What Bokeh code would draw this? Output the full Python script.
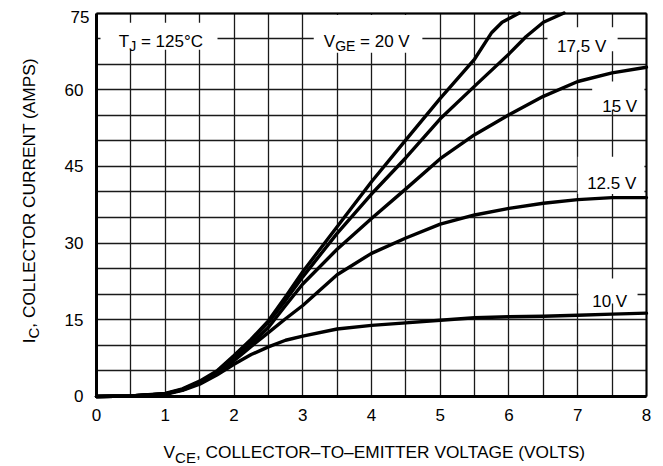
import numpy as np
from bokeh.plotting import figure
from bokeh.models import Label, FixedTicker, Range1d, LinearAxis
from bokeh.embed import file_html
from bokeh.resources import INLINE

# ---- data ----
x_ticks = [0, 1, 2, 3, 4, 5, 6, 7, 8]
y_ticks = [0, 15, 30, 45, 60]
y_top_tick = "75"

vce_20 = [0, 0.5, 1.0, 1.25, 1.5, 1.75, 2.0, 2.25, 2.5, 2.75, 3.0, 3.5, 4.0, 4.5, 5.0, 5.5, 5.75, 5.9, 6.15]
ic_20 = [0, 0.1, 0.6, 1.5, 3.0, 5.0, 8.0, 11.2, 14.8, 19.5, 24.4, 33.2, 42.0, 50.2, 58.3, 66.0, 71.2, 73.2, 75.0]

vce_175 = [0, 0.5, 1.0, 1.25, 1.5, 1.75, 2.0, 2.25, 2.5, 2.75, 3.0, 3.5, 4.0, 4.5, 5.0, 5.5, 6.0, 6.25, 6.5, 6.8]
ic_175 = [0, 0.1, 0.5, 1.4, 2.8, 4.8, 7.8, 11.0, 14.5, 18.8, 23.4, 31.9, 39.6, 46.7, 54.3, 60.7, 67.0, 70.4, 73.2, 75.0]

vce_full = [0, 0.5, 1.0, 1.25, 1.5, 1.75, 2.0, 2.25, 2.5, 2.75, 3.0, 3.5, 4.0, 4.5, 5.0, 5.5, 6.0, 6.5, 7.0, 7.5, 8.0]
ic_15 = [0, 0.1, 0.5, 1.3, 2.7, 4.6, 7.3, 10.3, 13.5, 17.8, 22.0, 28.8, 34.8, 40.6, 46.5, 51.2, 55.1, 58.7, 61.6, 63.3, 64.4]
ic_125 = [0, 0.1, 0.5, 1.3, 2.6, 4.4, 7.0, 9.8, 12.5, 15.2, 17.8, 23.8, 28.0, 31.0, 33.7, 35.5, 36.8, 37.8, 38.5, 38.9, 38.9]
ic_10 = [0, 0.1, 0.4, 1.2, 2.4, 4.2, 6.3, 8.2, 9.7, 11.0, 11.8, 13.2, 13.9, 14.4, 14.9, 15.4, 15.6, 15.7, 15.9, 16.1, 16.3]

X_MIN, X_MAX = 0, 8
Y_MIN, Y_MAX = 0, 75

FONT = "Liberation Sans"
ARIAL = {'V': 667, 'C': 722, 'E': 667, 'G': 778, 'T': 611, 'J': 500, 'I': 278, ' ': 278}


def text_width(s, size):
    return sum(ARIAL.get(ch, 556) for ch in s) / 1000.0 * size


# frame covers the whole canvas; the chart box is drawn inside it
p = figure(width=663, height=466, x_range=Range1d(-1.3964, 8.2473), y_range=Range1d(-13.69, 77.445),
           output_backend="svg", toolbar_location=None, title=None,
           min_border_left=0, min_border_right=0, min_border_top=0, min_border_bottom=0)

p.background_fill_color = "white"
p.border_fill_color = "white"
p.outline_line_color = None

p.xaxis.ticker = FixedTicker(ticks=x_ticks)
p.yaxis.ticker = FixedTicker(ticks=y_ticks)
p.xaxis.fixed_location = Y_MIN
p.yaxis.fixed_location = X_MIN
p.xaxis.bounds = (X_MIN, X_MAX)
p.yaxis.bounds = (Y_MIN, Y_MAX)

p.xgrid.ticker = FixedTicker(ticks=list(np.arange(X_MIN, X_MAX + 0.01, 0.5)))
p.ygrid.ticker = FixedTicker(ticks=list(np.arange(Y_MIN, Y_MAX + 0.1, 5)))
p.xgrid.bounds = (X_MIN, X_MAX)
p.ygrid.bounds = (Y_MIN, Y_MAX)
p.xgrid.cross_bounds = (Y_MIN, Y_MAX)
p.ygrid.cross_bounds = (X_MIN, X_MAX)
for g in (p.xgrid, p.ygrid):
    g.grid_line_color = "#1a1a1a"
    g.grid_line_width = 1.3

for ax in (p.xaxis, p.yaxis):
    ax.axis_line_width = 3
    ax.axis_line_color = "black"
    ax.major_tick_line_color = None
    ax.minor_tick_line_color = None
    ax.major_label_text_font = FONT
    ax.major_label_text_font_size = "17px"
    ax.major_label_text_color = "black"
    ax.major_label_standoff = 7

# top and right border of the chart box
top_axis = LinearAxis(fixed_location=Y_MAX, bounds=(X_MIN, X_MAX), ticker=FixedTicker(ticks=[]),
                      axis_line_width=2, major_tick_line_color=None, minor_tick_line_color=None)
right_axis = LinearAxis(fixed_location=X_MAX, bounds=(Y_MIN, Y_MAX), ticker=FixedTicker(ticks=[]),
                        axis_line_width=2, major_tick_line_color=None, minor_tick_line_color=None)
p.add_layout(top_axis, "above")
p.add_layout(right_axis, "right")

# white backgrounds behind in-plot labels
box_left = [0.058, 3.16, 6.56, 7.21, 7.0, 7.01]
box_right = [1.76, 4.74, 7.58, 7.97, 7.97, 7.87]
box_top = [73.1, 74.6, 72.2, 61.6, 46.9, 23.1]
box_bottom = [67.8, 67.25, 67.5, 56.1, 39.6, 18.2]
p.quad(left=box_left, right=box_right, top=box_top, bottom=box_bottom,
       fill_color="white", fill_alpha=1.0, line_color=None)

curves = [(vce_20, ic_20), (vce_175, ic_175), (vce_full, ic_15), (vce_full, ic_125), (vce_full, ic_10)]
for xs, ys in curves:
    p.line(xs, ys, line_color="black", line_width=3.4, line_join="round", line_cap="round")


def rich(x, y, parts, angle=0.0):
    adv = 0.0
    for txt, size, drop in parts:
        lead = len(txt) - len(txt.lstrip(" "))
        adv += lead * 0.278 * size
        txt = txt.lstrip(" ")
        if angle == 0.0:
            xo, yo = adv, -drop
        else:
            xo, yo = drop, adv
        p.add_layout(Label(x=x, y=y, x_offset=xo, y_offset=yo, text=txt, angle=angle,
                           text_font=FONT, text_font_size=f"{size}px", text_color="black",
                           text_baseline="alphabetic", text_align="left"))
        adv += text_width(txt, size)


rich(0.325, 69.4, [("T", 17, 0), ("J", 14, 4), (" = 125°C", 17, 0)])
rich(3.306, 69.4, [("V", 17, 0), ("GE", 14, 4), (" = 20 V", 17, 0)])
rich(6.70, 68.5, [("17.5 V", 17, 0)])
rich(7.356, 56.7, [("15 V", 17, 0)])
rich(7.137, 41.6, [("12.5 V", 17, 0)])
rich(7.21, 18.5, [("10 V", 17, 0)])

# top y tick label, nudged down as in the reference
p.add_layout(Label(x=X_MIN, y=Y_MAX, x_offset=-7, y_offset=-3.5, text=y_top_tick, text_font=FONT,
                   text_font_size="17px", text_color="black", text_align="right",
                   text_baseline="middle"))

rich(0.975, -10.95, [("V", 17.3, 0), ("CE", 15, 5), (", COLLECTOR–TO–EMITTER VOLTAGE (VOLTS)", 17.3, 0)])
rich(-0.989, 10.4, [("I", 17.3, 0), ("C", 15, 5), (", COLLECTOR CURRENT (AMPS)", 17.3, 0)], angle=np.pi / 2)

open("out.html", "w").write(file_html(p, INLINE))
